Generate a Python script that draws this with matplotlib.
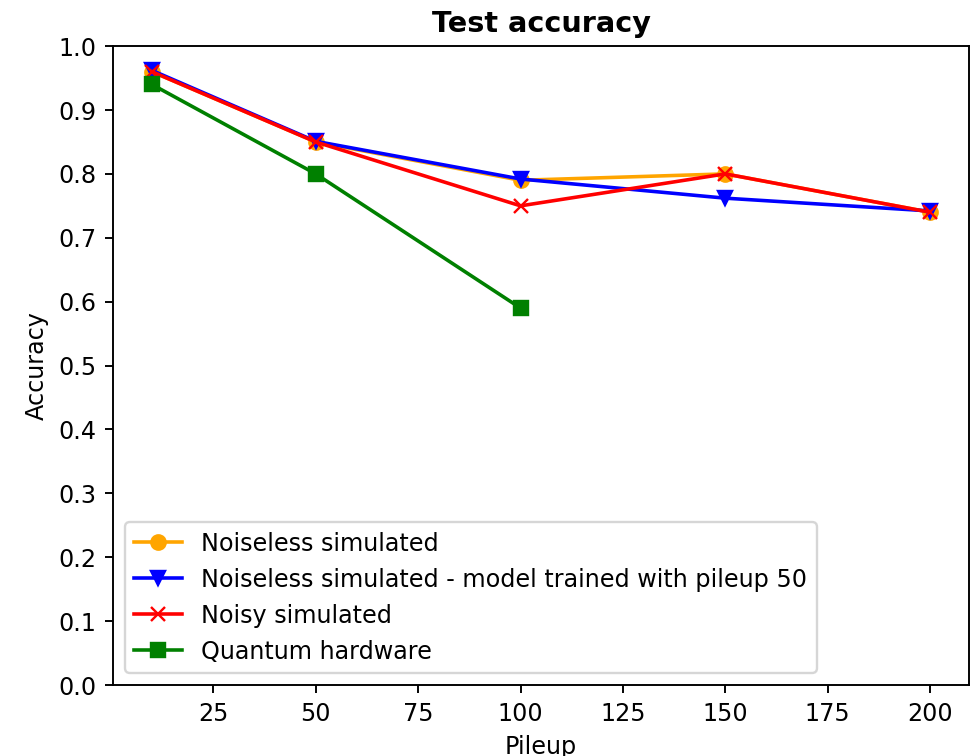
import matplotlib
matplotlib.use('Agg')
import matplotlib.pyplot as plt

pileup = [10, 50, 100, 150, 200]
noiseless = [0.96, 0.85, 0.79, 0.80, 0.74]
noiseless_p50 = [0.962, 0.851, 0.792, 0.762, 0.742]
noisy = [0.96, 0.85, 0.75, 0.80, 0.74]
pileup_hw = [10, 50, 100]
hardware = [0.94, 0.80, 0.59]

dpi = 172
fig = plt.figure(figsize=(979 / dpi, 756 / dpi), dpi=dpi)
ax = fig.add_axes([0.1154, 0.0939, 0.8744, 0.8451])

ax.plot(pileup, noiseless, color='orange', marker='o', label='Noiseless simulated')
ax.plot(pileup, noiseless_p50, color='blue', marker='v',
        label='Noiseless simulated - model trained with pileup 50')
ax.plot(pileup, noisy, color='red', marker='x', label='Noisy simulated')
ax.plot(pileup_hw, hardware, color='green', marker='s', label='Quantum hardware')

ax.set_ylim(0, 1.0)
ax.set_yticks([i / 10 for i in range(11)])
ax.set_xticks([25, 50, 75, 100, 125, 150, 175, 200])
ax.set_xlabel('Pileup')
ax.set_ylabel('Accuracy')
ax.set_title('Test accuracy', fontweight='bold')
ax.legend(loc='lower left')

fig.savefig('out.png', dpi=dpi)
